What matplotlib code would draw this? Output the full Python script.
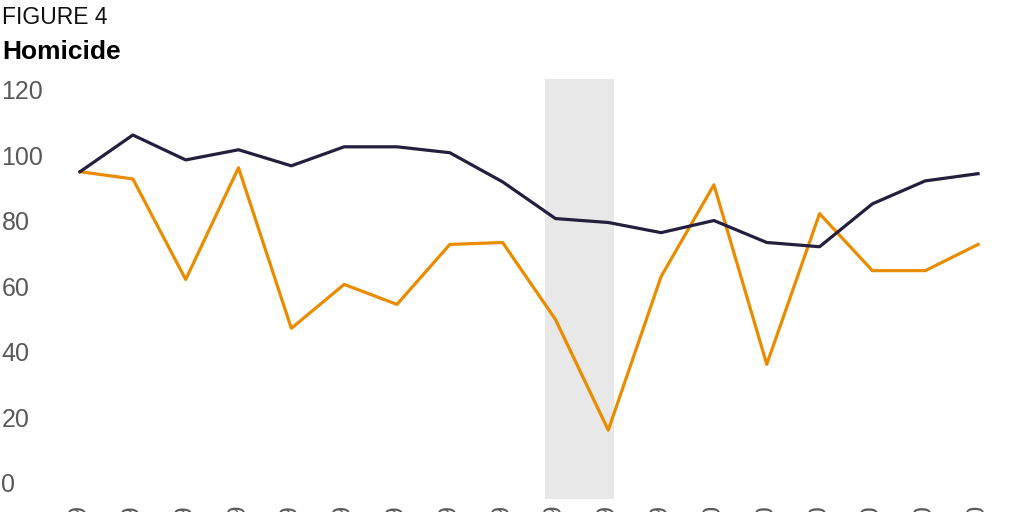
import numpy as np
import matplotlib
matplotlib.use("Agg")
import matplotlib.pyplot as plt

plt.rcParams['font.family'] = ['Liberation Sans Narrow', 'Liberation Sans', 'DejaVu Sans']

# data
periods = ["Jan 2019", "Feb 2019", "Mar 2019", "Apr 2019", "May 2019", "Jun 2019",
           "Jul 2019", "Aug 2019", "Sep 2019", "Oct 2019", "Nov 2019", "Dec 2019",
           "Jan 2020", "Feb 2020", "Mar 2020", "Apr 2020", "May 2020", "Jun 2020"]
series_dark = [95.0, 106.2, 98.6, 101.7, 96.8, 102.6, 102.6, 100.8, 91.9,
               80.7, 79.5, 76.4, 80.1, 73.4, 72.1, 85.2, 92.2, 94.4]
series_orange = [95.0, 92.8, 62.1, 96.2, 47.2, 60.6, 54.5, 72.8, 73.4,
                 49.9, 16.1, 63.0, 91.0, 36.2, 82.2, 64.8, 64.8, 72.8]
shade_span = (8.8, 10.1)
yticks = [0, 20, 40, 60, 80, 100, 120]

DARK = "#241f3d"
ORANGE = "#ea8c00"

fig = plt.figure(figsize=(10.24, 5.12), dpi=100)
ax = fig.add_axes([0.0, 13 / 512, 1.0, (499 - 79) / 512])

x = np.arange(len(periods))
ax.axvspan(shade_span[0], shade_span[1], color="#e8e8e8", lw=0, zorder=0)
ax.plot(x, series_orange, color=ORANGE, lw=2.3, zorder=2)
ax.plot(x, series_dark, color=DARK, lw=2.3, zorder=3)

ax.set_xlim(-1.515, 17.87)
ax.set_ylim(-4.9, 123.3)

ax.set_yticks(yticks)
ax.set_yticklabels([str(v) for v in yticks])
ax.tick_params(axis='y', length=0, pad=-1.0, labelsize=18, labelcolor="#595959")
for lab in ax.get_yticklabels():
    lab.set_horizontalalignment('left')

ax.set_xticks(x)
ax.set_xticklabels(periods, rotation=90)
ax.tick_params(axis='x', length=0, pad=5, labelsize=18, labelcolor="#595959")

for s in ax.spines.values():
    s.set_visible(False)

fig.text(0.002, 0.988, "FIGURE 4", fontsize=16.5, color="#111111", va='top', ha='left')
fig.text(0.002, 0.921, "Homicide", fontsize=19, fontweight='bold', color="#000000",
         va='top', ha='left')

fig.savefig("out.png", dpi=100)
